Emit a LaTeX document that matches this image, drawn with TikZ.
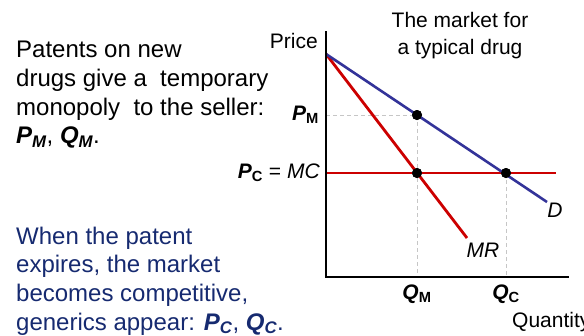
\documentclass[tikz,border=0pt]{standalone}
\usepackage{fontspec}
\setmainfont{Liberation Sans}
\usepackage{xcolor}
\usepackage{tikz}
\usetikzlibrary{positioning}
\definecolor{dblue}{RGB}{51,51,153}
\definecolor{mred}{RGB}{204,0,0}
\definecolor{navy}{RGB}{22,42,112}
\tikzset{
  txt/.style={font=\fontsize{24}{28.7}\selectfont, align=left, inner sep=0pt},
  lbl/.style={font=\fontsize{21}{27}\selectfont, inner sep=0pt},
  dot/.style={circle, fill=black, inner sep=0pt, minimum size=10pt},
  axis/.style={line width=1.2pt},
  dem/.style={draw=dblue, line width=2.6pt},
  redln/.style={draw=mred, line width=2.8pt},
  guide/.style={draw=gray!45, dashed, line width=0.9pt, dash pattern=on 4pt off 3pt},
}
\begin{document}
\begin{tikzpicture}[x=1pt, y=-1pt, node distance=8pt]
\useasboundingbox (0,0) rectangle (584,335);
\node[txt, anchor=north west] (mono) at (16,41) {Patents on new\\drugs give a\ \ temporary\\monopoly\ \ to the seller:\\\textbf{\textit{P\textsubscript{M}}}, \textbf{\textit{Q\textsubscript{M}}}.};
\node[txt, anchor=north west, text=navy] (comp) at (16,226.5) {When the patent\\expires, the market\\becomes competitive,\\generics appear: \textbf{\textit{P\textsubscript{C}}}, \textbf{\textit{Q\textsubscript{C}}}.};
\coordinate (orig) at (326,277);
\coordinate (ytop) at (326,31);
\coordinate (xend) at (569,277);
\coordinate (pint) at (326,54);
\coordinate (dend) at (547,202);
\coordinate (mrend) at (467,238);
\coordinate (mcend) at (556,173);
\node[dot] (pm) at (417,115) {};
\node[dot] (qm) at (417,173) {};
\node[dot] (qc) at (506,173) {};
\draw[guide] (pm -| orig) -- (pm.center) -- (pm |- orig);
\draw[guide] (qc.center) -- (qc |- orig);
\draw[redln] (qm -| orig) -- (mcend);
\draw[redln] (pint) -- (mrend);
\draw[dem] (pint) -- (dend);
\draw[axis] (ytop) -- (orig) -- (xend);
\node[dot] at (pm) {};
\node[dot] at (qm) {};
\node[dot] at (qc) {};
\node[lbl, anchor=base east] (price) at (318,48) {Price};
\node[lbl, align=center, anchor=north] (title) at (460,12) {The market for\\a typical drug};
\node[lbl, anchor=east] (pmlbl) at (319,115) {\textbf{\textit{P}\textsubscript{M}}};
\node[lbl, anchor=east] (pclbl) at (320,173) {\textbf{\textit{P}\textsubscript{C}} = \textit{MC}};
\node[lbl, below=8pt of qm |- orig] (qmlbl) {\textbf{\textit{Q}\textsubscript{M}}};
\node[lbl, below=8pt of qc |- orig] (qclbl) {\textbf{\textit{Q}\textsubscript{C}}};
\node[lbl, anchor=base west] (qty) at (512,327) {Quantity};
\node[lbl] (dlbl) at (555,210) {\textit{D}};
\node[lbl] (mrlbl) at (483,250) {\textit{MR}};
\end{tikzpicture}
\end{document}
